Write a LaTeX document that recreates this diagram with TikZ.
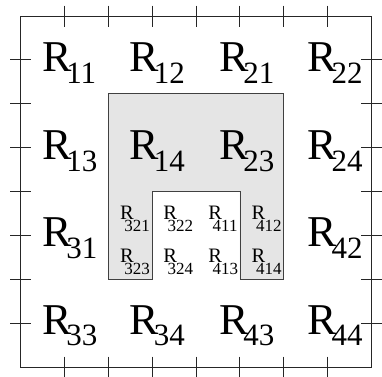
\documentclass[tikz,border=0pt]{standalone}
\usepackage{fontspec}
\setmainfont{Liberation Serif}
\newcommand{\BigLab}[1]{{\fontsize{44}{44}\selectfont R}\kern-5pt\raisebox{-11.7pt}{\fontsize{31}{31}\selectfont #1}}
\newcommand{\SmLab}[1]{{\fontsize{20.5}{20.5}\selectfont R}\kern-9.3pt\raisebox{-12.7pt}{\fontsize{17}{17}\selectfont #1}}
\tikzset{
  biglab/.style={anchor=base west, inner sep=0pt, outer sep=0pt},
  smlab/.style={anchor=base west, inner sep=0pt, outer sep=0pt},
  region/.style={fill=black!10, draw=black!75, line width=0.8pt},
  frame/.style={draw=black!85, line width=0.9pt},
  tick/.style={draw=black!85, line width=0.9pt}
}
\begin{document}
\begin{tikzpicture}[x=1pt,y=-1pt]
\useasboundingbox (0,0) rectangle (382,376);
\def\U{43.875}
% shaded region
\draw[region] (108.25,93.5) -- (283.75,93.5) -- (283.75,279.25) -- (239.9,279.25)
  -- (239.9,191.5) -- (152.1,191.5) -- (152.1,279.25) -- (108.25,279.25) -- cycle;
% frame
\draw[frame] (20.5,16) rectangle (371.5,367);
% ticks
\foreach \i in {1,...,7}{
  \pgfmathsetmacro{\p}{20.5+\U*\i}
  \pgfmathsetmacro{\q}{16+\U*\i}
  \draw[tick] (\p,5.5) -- (\p,26.5);
  \draw[tick] (\p,356.5) -- (\p,377.5);
  \draw[tick] (10,\q) -- (31,\q);
  \draw[tick] (361,\q) -- (382,\q);
}
% big labels
\node[biglab] (r11) at (42,71.5) {\BigLab{11}};
\node[biglab] (r12) at (129.5,71.5) {\BigLab{12}};
\node[biglab] (r21) at (219,71.5) {\BigLab{21}};
\node[biglab] (r22) at (307.2,71.5) {\BigLab{22}};
\node[biglab] (r13) at (42,159.5) {\BigLab{13}};
\node[biglab] (r14) at (129.5,159.5) {\BigLab{14}};
\node[biglab] (r23) at (219,159.5) {\BigLab{23}};
\node[biglab] (r24) at (307.2,159.5) {\BigLab{24}};
\node[biglab] (r31) at (42,246.5) {\BigLab{31}};
\node[biglab] (r42) at (307.2,246.5) {\BigLab{42}};
\node[biglab] (r33) at (42,334) {\BigLab{33}};
\node[biglab] (r34) at (129.5,334) {\BigLab{34}};
\node[biglab] (r43) at (219,334) {\BigLab{43}};
\node[biglab] (r44) at (307.2,334) {\BigLab{44}};
% small labels
\node[smlab] (r321) at (120,219) {\SmLab{321}};
\node[smlab] (r322) at (163.3,219) {\SmLab{322}};
\node[smlab] (r411) at (208.3,219) {\SmLab{411}};
\node[smlab] (r412) at (251.7,219) {\SmLab{412}};
\node[smlab] (r323) at (120,262) {\SmLab{323}};
\node[smlab] (r324) at (163.3,262) {\SmLab{324}};
\node[smlab] (r413) at (208.3,262) {\SmLab{413}};
\node[smlab] (r414) at (251.7,262) {\SmLab{414}};
\end{tikzpicture}
\end{document}
